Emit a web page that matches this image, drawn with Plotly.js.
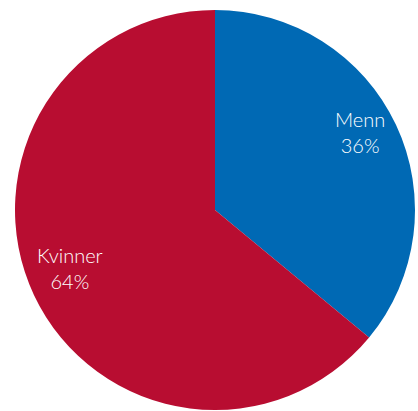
<!DOCTYPE html>
<html><head><meta charset="utf-8">
<script src="https://cdn.plot.ly/plotly-3.0.1.min.js"></script>
<style>html,body{margin:0;padding:0;background:#fff}#chart{width:418px;height:411px}</style>
</head><body><div id="chart"></div>
<script>
const categories = ["Menn", "Kvinner"];
const values = [36, 64];
const colors = ["#0069b4", "#b80d31"];

const W = 418, H = 411;
const dom = {x: [15/W, 415/W], y: [1/H, 401/H]};
const cxPx = (dom.x[0] + dom.x[1]) / 2 * W;
const cyPx = (1 - (dom.y[0] + dom.y[1]) / 2) * H;
const Rpx = Math.min((dom.x[1]-dom.x[0])*W, (dom.y[1]-dom.y[0])*H) / 2;
const labelR = 0.8;

const total = values.reduce((a, b) => a + b, 0);
let cum = 0;
const annotations = categories.map((c, i) => {
  const mid = (cum + values[i] / 2) / total * 2 * Math.PI;
  cum += values[i];
  const px = cxPx + labelR * Rpx * Math.sin(mid);
  const py = cyPx - labelR * Rpx * Math.cos(mid);
  return {
    x: px / W, y: 1 - py / H, xref: "paper", yref: "paper",
    text: c + "<br>" + values[i] + "%", showarrow: false,
    xanchor: "center", yanchor: "middle", yshift: 10,
    font: {family: "Lato, 'Noto Sans', sans-serif", size: 20, weight: 300, color: "#ffffff"}
  };
});

const trace = {
  type: "pie",
  labels: categories,
  values: values,
  sort: false,
  direction: "clockwise",
  rotation: 0,
  marker: {colors: colors, line: {width: 0}},
  textinfo: "none",
  hoverinfo: "none",
  domain: dom
};
const layout = {
  width: W, height: H,
  margin: {l: 0, r: 0, t: 0, b: 0},
  showlegend: false,
  paper_bgcolor: "#ffffff",
  annotations: annotations
};
Plotly.newPlot("chart", [trace], layout, {staticPlot: true, displayModeBar: false});
</script></body></html>
